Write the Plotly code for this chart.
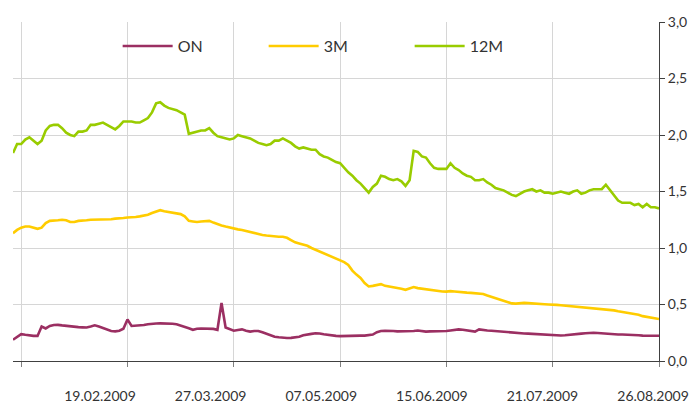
import plotly.graph_objects as go

# ---- data (one value per trading day) ----
rate_12m = [
    1.84, 1.92, 1.92, 1.96, 1.98, 1.95, 1.92, 1.95, 2.04, 2.08,
    2.09, 2.09, 2.06, 2.02, 2.00, 1.99, 2.03, 2.03, 2.04, 2.09,
    2.09, 2.10, 2.11, 2.09, 2.07, 2.05, 2.08, 2.12, 2.12, 2.12,
    2.11, 2.11, 2.13, 2.15, 2.20, 2.28, 2.29, 2.26, 2.24, 2.23,
    2.22, 2.20, 2.18, 2.01, 2.02, 2.03, 2.04, 2.04, 2.06, 2.02,
    1.99, 1.98, 1.97, 1.96, 1.97, 2.00, 1.99, 1.98, 1.97, 1.95,
    1.93, 1.92, 1.91, 1.92, 1.95, 1.95, 1.97, 1.95, 1.93, 1.90,
    1.88, 1.89, 1.88, 1.87, 1.87, 1.83, 1.81, 1.80, 1.78, 1.76,
    1.75, 1.71, 1.67, 1.64, 1.60, 1.57, 1.53, 1.49, 1.54, 1.57,
    1.64, 1.63, 1.61, 1.60, 1.61, 1.59, 1.55, 1.60, 1.86, 1.85,
    1.81, 1.80, 1.75, 1.71, 1.70, 1.70, 1.70, 1.75, 1.71, 1.69,
    1.66, 1.64, 1.63, 1.60, 1.60, 1.61, 1.58, 1.56, 1.53, 1.52,
    1.51, 1.49, 1.47, 1.46, 1.48, 1.50, 1.51, 1.52, 1.50, 1.51,
    1.49, 1.49, 1.48, 1.49, 1.50, 1.49, 1.48, 1.50, 1.51, 1.48,
    1.49, 1.51, 1.52, 1.52, 1.52, 1.56, 1.51, 1.46, 1.42, 1.40,
    1.40, 1.40, 1.38, 1.39, 1.36, 1.39, 1.36, 1.36, 1.35,
]

rate_3m = [
    1.13, 1.16, 1.18, 1.19, 1.19, 1.18, 1.17, 1.18, 1.22, 1.24,
    1.24, 1.245, 1.25, 1.245, 1.23, 1.23, 1.24, 1.24, 1.245, 1.25,
    1.25, 1.255, 1.255, 1.255, 1.255, 1.26, 1.26, 1.265, 1.27, 1.27,
    1.275, 1.28, 1.285, 1.295, 1.31, 1.325, 1.335, 1.325, 1.32, 1.315,
    1.31, 1.30, 1.28, 1.24, 1.235, 1.23, 1.235, 1.24, 1.24, 1.225,
    1.21, 1.20, 1.19, 1.18, 1.17, 1.165, 1.16, 1.15, 1.14, 1.13,
    1.12, 1.115, 1.11, 1.105, 1.105, 1.10, 1.10, 1.09, 1.07, 1.05,
    1.04, 1.03, 1.02, 1.00, 0.985, 0.965, 0.95, 0.935, 0.92, 0.905,
    0.895, 0.875, 0.85, 0.80, 0.765, 0.735, 0.69, 0.66, 0.665, 0.67,
    0.68, 0.665, 0.66, 0.655, 0.65, 0.64, 0.63, 0.645, 0.655, 0.645,
    0.64, 0.635, 0.63, 0.62, 0.617, 0.615, 0.614, 0.618, 0.615, 0.61,
    0.608, 0.605, 0.603, 0.60, 0.598, 0.593, 0.58, 0.568, 0.555, 0.545,
    0.535, 0.525, 0.51, 0.508, 0.512, 0.514, 0.512, 0.508, 0.505, 0.503,
    0.502, 0.50, 0.50, 0.497, 0.493, 0.49, 0.487, 0.483, 0.48, 0.476,
    0.473, 0.47, 0.468, 0.466, 0.462, 0.458, 0.453, 0.448, 0.44, 0.433,
    0.428, 0.425, 0.417, 0.41, 0.397, 0.39, 0.385, 0.378, 0.372,
]

rate_on = [
    0.188, 0.215, 0.238, 0.232, 0.226, 0.222, 0.222, 0.305, 0.288, 0.31,
    0.318, 0.32, 0.315, 0.31, 0.306, 0.302, 0.30, 0.298, 0.296, 0.305,
    0.316, 0.305, 0.292, 0.28, 0.265, 0.262, 0.268, 0.285, 0.367, 0.31,
    0.312, 0.316, 0.318, 0.325, 0.33, 0.332, 0.333, 0.333, 0.332, 0.33,
    0.325, 0.315, 0.305, 0.29, 0.276, 0.285, 0.287, 0.287, 0.287, 0.284,
    0.276, 0.514, 0.296, 0.285, 0.268, 0.275, 0.28, 0.268, 0.26, 0.266,
    0.266, 0.254, 0.24, 0.226, 0.215, 0.21, 0.205, 0.203, 0.205, 0.208,
    0.215, 0.228, 0.236, 0.24, 0.245, 0.244, 0.236, 0.23, 0.226, 0.222,
    0.22, 0.222, 0.225, 0.225, 0.224, 0.225, 0.225, 0.228, 0.234, 0.255,
    0.265, 0.268, 0.27, 0.266, 0.262, 0.262, 0.262, 0.262, 0.266, 0.27,
    0.265, 0.26, 0.262, 0.262, 0.262, 0.264, 0.265, 0.27, 0.275, 0.28,
    0.276, 0.27, 0.265, 0.26, 0.28, 0.272, 0.27, 0.268, 0.265, 0.26,
    0.255, 0.25, 0.248, 0.246, 0.245, 0.244, 0.242, 0.24, 0.24, 0.236,
    0.232, 0.23, 0.228, 0.225, 0.226, 0.228, 0.23, 0.234, 0.238, 0.242,
    0.246, 0.25, 0.25, 0.248, 0.245, 0.24, 0.236, 0.234, 0.234, 0.234,
    0.234, 0.232, 0.23, 0.228, 0.225, 0.225, 0.226, 0.225, 0.224,
]

series_names = ["ON", "3M", "12M"]
tick_labels = ["", "19.02.2009", "27.03.2009", "07.05.2009",
               "15.06.2009", "21.07.2009", "26.08.2009"]
first_tick_obs = 2      # observation index of the first (unlabelled) tick
obs_per_tick = 26       # trading days between axis ticks

# ---- build ----
n = len(rate_on)
obs = list(range(n))
tick_obs = [first_tick_obs + k * obs_per_tick for k in range(len(tick_labels))]

colors = {"ON": "#9b2f62", "3M": "#ffcc00", "12M": "#99cc00"}
values = {"ON": rate_on, "3M": rate_3m, "12M": rate_12m}

FONT = "Lato, 'Open Sans', sans-serif"
TXT = "#333333"

fig = go.Figure()
for name in series_names:
    fig.add_trace(go.Scatter(
        x=obs, y=values[name], mode="lines", name=name,
        line=dict(color=colors[name], width=2.6),
        hoverinfo="skip",
    ))

# invisible helper trace so the label axis is drawn
fig.add_trace(go.Scatter(x=[], y=[], xaxis="x2", showlegend=False, hoverinfo="skip"))

# the page has an 8px body margin, so the figure is sized to fit the window
fig.update_layout(
    width=691, height=401,
    margin=dict(l=5, r=40, t=12, b=36),
    paper_bgcolor="white", plot_bgcolor="white",
    separators=",.",
    font=dict(family=FONT, size=14, color=TXT),
    showlegend=True,
    legend=dict(
        orientation="h", x=0.162, xanchor="left", y=0.929, yanchor="middle",
        font=dict(family=FONT, size=16, color=TXT),
        bgcolor="rgba(0,0,0,0)", itemwidth=50,
        entrywidth=81, entrywidthmode="pixels",
        traceorder="normal",
    ),
    xaxis=dict(
        range=[0, n - 1], tickmode="array", tickvals=tick_obs,
        showticklabels=False, ticks="outside", ticklen=5, tickcolor="#808080",
        showgrid=True, gridcolor="#d6d6d6", gridwidth=1,
        showline=True, linecolor="#404040", linewidth=1, zeroline=False,
    ),
    xaxis2=dict(
        overlaying="x", anchor="y", side="bottom",
        range=[7.55, 159.4], tickmode="array",
        tickvals=tick_obs[1:], ticktext=tick_labels[1:],
        ticks="outside", ticklen=22, tickcolor="rgba(0,0,0,0)",
        showgrid=False, showline=False, zeroline=False,
        tickfont=dict(family=FONT, size=14, color=TXT),
    ),
    yaxis=dict(
        side="right", range=[0, 3], dtick=0.5, tickformat=".1f",
        ticks="outside", ticklen=5, tickcolor="#404040",
        showgrid=True, gridcolor="#d6d6d6", gridwidth=1,
        showline=True, linecolor="#404040", linewidth=1, zeroline=False,
        tickfont=dict(family=FONT, size=14, color=TXT),
    ),
)

fig.write_html("out.html")
